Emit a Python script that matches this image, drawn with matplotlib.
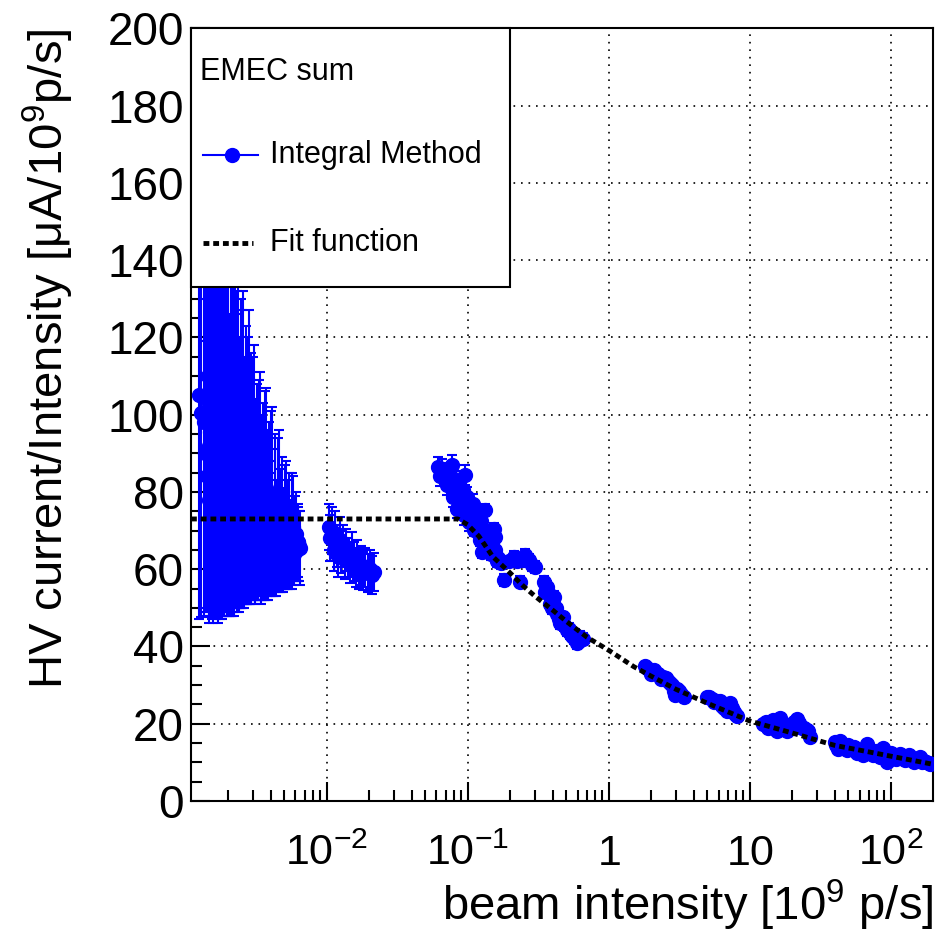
import numpy as np
import matplotlib.pyplot as plt
from matplotlib.patches import Rectangle
from matplotlib.ticker import FixedLocator, FixedFormatter, MultipleLocator, LogLocator, NullFormatter

plt.rcParams['font.family'] = ['Liberation Sans', 'DejaVu Sans']
plt.rcParams['mathtext.fontset'] = 'custom'
plt.rcParams['mathtext.rm'] = 'Liberation Sans'
plt.rcParams['mathtext.it'] = 'Liberation Sans:italic'
plt.rcParams['mathtext.bf'] = 'Liberation Sans:bold'

# low intensity group (x in units of 1e-3)
g1_x = np.array([1.25, 1.28, 1.38, 1.42, 1.44, 1.47, 1.49, 1.52, 1.55, 1.58, 1.61, 1.64, 1.67, 1.70,
                 1.73, 1.76, 1.79, 1.82, 1.86, 1.90, 1.94, 1.98, 2.02, 2.06, 2.10, 2.14, 2.18, 2.22,
                 2.27, 2.32, 2.37, 2.42, 2.47, 2.52, 2.58, 2.64, 2.70, 2.76, 2.82, 2.88, 2.95, 3.02,
                 3.09, 3.16, 3.24, 3.32, 3.40, 3.48, 3.57, 3.66, 3.75, 3.85, 3.95, 4.05, 4.16, 4.27,
                 4.39, 4.51, 4.64, 4.77, 4.91, 5.05, 5.20, 5.35, 5.50, 5.66, 5.82, 5.98, 6.15, 6.30,
                 6.47,
                 1.35, 1.40, 1.46, 1.50, 1.54, 1.57, 1.60, 1.63, 1.66, 1.69, 1.72, 1.75, 1.78, 1.81,
                 1.84, 1.88, 1.92, 1.96, 2.00, 2.04, 2.08, 2.12, 2.16, 2.20, 2.25, 2.30, 2.35, 2.40,
                 2.45, 2.50, 2.55, 2.61, 2.67, 2.73, 2.79, 2.85, 2.91, 2.98, 3.05, 3.12, 3.20, 3.28,
                 3.36, 3.44, 3.52, 3.61, 3.70, 3.80, 3.90, 4.00, 4.10, 4.21, 4.33, 4.45, 4.58, 4.70,
                 4.84, 4.98, 5.12, 5.27, 5.42, 5.58, 5.74, 5.90, 6.07, 6.22, 6.38]) * 1e-3
g1_y = np.array([105, 100.5, 90, 84, 110, 78, 95.5, 88, 82, 97, 75, 92, 86, 99,
                 80, 94, 72, 90, 84, 96, 77, 91, 70, 87, 81, 93, 74, 88,
                 80, 91, 72, 85, 78, 89, 70, 83, 76, 86, 69, 80, 74, 84,
                 67, 78, 72, 81, 66, 76, 70, 79, 65, 74, 69, 77, 64, 72,
                 67, 74, 63, 70, 66, 71, 64, 69, 65, 70, 64, 68, 65, 67,
                 65.5,
                 98, 104, 92, 102, 94, 86, 104, 80, 96, 90, 100, 85, 98, 79,
                 94, 88, 100, 83, 95, 78, 92, 86, 97, 80, 93, 84, 95, 77,
                 90, 82, 92, 76, 87, 80, 90, 73, 84, 77, 86, 71, 80, 75,
                 83, 69, 78, 73, 81, 68, 76, 71, 79, 67, 75, 69, 76, 66,
                 72, 68, 73, 66, 71, 67, 71, 66, 69, 67, 66])
g1_err = np.array([58, 53, 40, 35, 50, 30, 48, 40, 34, 45, 27, 44, 38, 47,
                   31, 45, 24, 42, 35, 44, 28, 42, 21, 39, 32, 43, 25, 38,
                   30, 41, 22, 35, 27, 38, 19, 32, 25, 34, 18, 29, 22, 31,
                   16, 26, 20, 28, 15, 24, 18, 27, 13, 22, 16, 24, 11, 19,
                   14, 20, 9, 16, 12, 16, 9, 14, 10, 15, 8, 11, 8, 10,
                   9.5,
                   50, 55, 46, 52, 47, 40, 52, 33, 48, 44, 50, 38, 48, 32,
                   46, 40, 48, 35, 46, 30, 44, 38, 45, 32, 43, 35, 42, 28,
                   40, 32, 40, 26, 36, 29, 37, 22, 32, 25, 32, 19, 28, 23,
                   28, 17, 25, 20, 26, 15, 22, 17, 23, 13, 20, 14, 20, 11,
                   17, 13, 15, 10, 14, 11, 13, 9, 11, 9, 9])

# second group
g2_x = np.array([0.0103, 0.0106, 0.0109, 0.0112, 0.0115, 0.0118, 0.0121, 0.0124, 0.0127, 0.0130,
                 0.0134, 0.0138, 0.0142, 0.0146, 0.0150, 0.0155, 0.0160, 0.0165, 0.0170, 0.0176,
                 0.0182, 0.0188, 0.0195, 0.0202, 0.0210, 0.0218])
g2_y = np.array([71, 68, 70, 65, 69, 66, 63.5, 67.5, 64.5, 66,
                 62.5, 65, 63, 61.5, 64, 62, 60.5, 62.5, 60, 61,
                 59.5, 60.5, 59, 60, 58.5, 59.3])
g2_err = np.array([6, 6, 6, 5.5, 6, 5.5, 5.5, 6, 5.5, 5.5,
                   5, 5.5, 5, 5, 5.5, 5, 5, 5, 5, 5,
                   5, 5, 5, 5, 5, 5])

# high intensity group
g3_x = np.array([0.062, 0.064, 0.068, 0.071, 0.075, 0.077, 0.079, 0.082, 0.084, 0.087, 0.090, 0.094,
                 0.096, 0.099, 0.102, 0.104, 0.107, 0.110, 0.113, 0.116, 0.120, 0.123, 0.126, 0.130,
                 0.133, 0.137, 0.143, 0.149, 0.153, 0.157, 0.161, 0.180, 0.211, 0.223, 0.236, 0.256,
                 0.286, 0.345, 0.365, 0.385, 0.406, 0.430, 0.453, 0.480, 0.506, 0.535, 0.564, 0.596,
                 0.628,
                 1.81, 1.95, 2.08, 2.25, 2.44, 2.62, 2.80, 2.96, 3.15, 3.39,
                 4.97, 5.4, 5.85, 6.3, 6.89, 7.27, 7.7, 8.1,
                 12.5, 13.5, 14.7, 15.5, 16.4, 17.5, 18.3, 19.5, 20.5, 21.6, 23.5, 25.4, 26.8,
                 40, 42.5, 43.7, 47, 50, 54.4, 58, 63.9, 67.6, 72, 78, 84, 88.6, 93.7, 100, 108,
                 116, 125, 135, 145, 161, 172, 185])
g3_y = np.array([86.5, 84, 85, 81.8, 84.4, 87, 78.7, 83, 75.7, 79, 77, 74,
                 84.4, 78.7, 72.3, 76.1, 73, 70.1, 71.5, 73.6, 69, 67.6, 64.5, 70,
                 75.3, 68.8, 66, 67.1, 70.5, 68.4, 62, 57.2, 63.2, 62, 56.8, 63.7,
                 61, 56.8, 55.5, 51.1, 52.9, 48.5, 46, 45.5, 44.2, 43.5, 42.1, 40.8,
                 42.5,
                 35, 34, 33.8, 32.8, 32, 31, 30, 27.5, 28.5, 27,
                 27, 26.5, 26, 24.5, 23.3, 25.3, 23, 21.9,
                 20, 19, 21, 18, 21.5, 19.5, 18, 19.8, 20.5, 21.2, 19, 18.3, 16.5,
                 15.2, 13.5, 15.6, 14, 14.6, 14, 12.5, 11.8, 14.7, 12.8, 13, 11.5, 13.8, 10, 12.3, 11,
                 12.2, 10.5, 11.8, 10, 11.4, 10.3, 9.8])
g3_err = np.array([2.5] * 16 + [1.5] * 33 + [1.0] * 54)

# more points filling the high intensity bands
g3b_x = np.array([0.066, 0.073, 0.081, 0.086, 0.092, 0.098, 0.105, 0.109, 0.118, 0.125, 0.128, 0.135,
                  0.140, 0.146, 0.155, 0.165, 0.172, 0.195, 0.246, 0.270, 0.300, 0.355, 0.375, 0.395,
                  0.42, 0.44, 0.47, 0.52, 0.55, 0.58, 0.61, 0.66,
                  1.88, 2.0, 2.17, 2.35, 2.53, 2.7, 2.88, 3.05, 3.27,
                  5.15, 5.6, 6.1, 6.6, 7.05, 7.5, 7.9,
                  13.0, 14.1, 15.1, 16.0, 17.0, 18.9, 21.0, 22.5, 24.4, 26.0,
                  41, 45, 49, 52, 56, 61, 66, 70, 75, 81, 86, 91, 97, 104, 112, 120, 130, 140,
                  152, 166, 178, 190])
g3b_y = np.array([86, 83, 80, 82, 80.5, 76.5, 74.5, 77, 71, 72.5, 68, 66.5,
                  70, 64, 65, 63, 61.5, 62, 62.5, 62.5, 60.5, 54, 53.5, 50,
                  50, 47, 47.5, 44.5, 42.8, 43, 41.5, 42,
                  34.5, 33, 33.2, 31.5, 31.8, 30.5, 28.5, 29, 27.8,
                  26.8, 25.5, 25.8, 24.2, 24.5, 24, 22.5,
                  20.5, 19.7, 20.6, 19.2, 20.2, 19.8, 19.6, 20.3, 18.8, 18,
                  14.5, 14.8, 13.2, 13.6, 13.8, 13, 12.8, 13.4, 12, 12.5, 12.8, 11.8, 11.6, 11.8,
                  11.4, 11.5, 11, 10.8, 10.7, 10.2, 10.0, 9.7])
g3b_err = np.array([2.5] * 12 + [1.5] * 20 + [1.0] * 48)

# fit function
fit_x = [0.00109, 0.085, 0.1, 0.12, 0.15, 0.2, 0.25, 0.3, 0.4, 0.5, 0.7, 1.0, 1.5, 2.0, 3.0, 5.0,
         10, 20, 40, 70, 100, 199]
fit_y = [73, 73, 71.5, 68.5, 63.3, 59, 55.5, 53, 49.4, 46.5, 42.4, 39, 34.8, 32.3, 28.9, 25.3,
         20.7, 17.6, 14.4, 12.7, 11.6, 9.5]

xtick_vals = [1e-2, 1e-1, 1, 10, 100]
xtick_labels = ['$10^{-2}$', '$10^{-1}$', '$1$', '$10$', '$10^{2}$']

x_all = np.concatenate([g1_x, g2_x, g3_x, g3b_x])
y_all = np.concatenate([g1_y, g2_y, g3_y, g3b_y])
e_all = np.concatenate([g1_err, g2_err, g3_err, g3b_err])

fig = plt.figure(figsize=(9.5, 9.36), dpi=100)
ax = fig.add_axes([0.20105, 0.14423, 0.78105, 0.82553])

ax.errorbar(x_all, y_all, yerr=e_all, fmt='o', color='blue', ms=10,
            elinewidth=1.5, capsize=3.5, capthick=1.5, zorder=3)
ax.plot(fit_x, fit_y, color='black', lw=3.5, ls=(0, (1.2, 0.8)), zorder=4)

ax.set_xscale('log')
ax.set_xlim(0.00109, 199)
ax.set_ylim(0, 200)

ax.xaxis.set_major_locator(FixedLocator(xtick_vals))
ax.xaxis.set_major_formatter(FixedFormatter(xtick_labels))
ax.xaxis.set_minor_locator(LogLocator(base=10, subs=np.arange(2, 10), numticks=30))
ax.xaxis.set_minor_formatter(NullFormatter())
ax.yaxis.set_major_locator(MultipleLocator(20))
ax.yaxis.set_minor_locator(MultipleLocator(5))

ax.tick_params(which='both', direction='in', top=False, right=False, width=1.5)
ax.tick_params(which='major', length=14)
ax.tick_params(which='minor', length=8)
ax.tick_params(axis='y', labelsize=33, pad=5)
ax.tick_params(axis='x', labelsize=31, pad=46)
for lab in ax.get_xticklabels():
    lab.set_verticalalignment('baseline')

for s in ax.spines.values():
    s.set_linewidth(1.5)

ax.grid(True, which='major', color='black', ls=(0, (1, 3.5)), lw=1.2)
ax.set_axisbelow(True)

ax.set_xlabel('beam intensity [10$^{9}$ p/s]', fontsize=34, loc='right')
ax.xaxis.label.set_verticalalignment('baseline')
ax.xaxis.set_label_coords(1.0, -0.154)

ax.set_ylabel('HV current/Intensity [μA/10$^{9}$p/s]', fontsize=34, loc='top')
ax.yaxis.label.set_verticalalignment('baseline')
ax.yaxis.set_label_coords(-0.172, 1.0)

# legend box, drawn like the ROOT TLegend
ax.add_patch(Rectangle((0, 0.6652), 0.43, 0.3348, transform=ax.transAxes,
                       facecolor='white', edgecolor='black', lw=1.5, zorder=10, clip_on=False))
ax.text(0.012, 0.943, 'EMEC sum', transform=ax.transAxes, va='center', fontsize=22, zorder=11)
ax.plot([0.016, 0.09], [0.836, 0.836], transform=ax.transAxes, color='blue', lw=1.5,
        zorder=11, clip_on=False)
ax.plot([0.055], [0.836], 'o', transform=ax.transAxes, color='blue', ms=10, zorder=11, clip_on=False)
ax.text(0.1065, 0.836, 'Integral Method', transform=ax.transAxes, va='center', fontsize=22, zorder=11)
ax.plot([0.016, 0.084], [0.722, 0.722], transform=ax.transAxes, color='black', lw=3.5,
        ls=(0, (1.2, 0.8)), zorder=11, clip_on=False)
ax.text(0.1065, 0.722, 'Fit function', transform=ax.transAxes, va='center', fontsize=22, zorder=11)

fig.savefig('out.png', dpi=100)
